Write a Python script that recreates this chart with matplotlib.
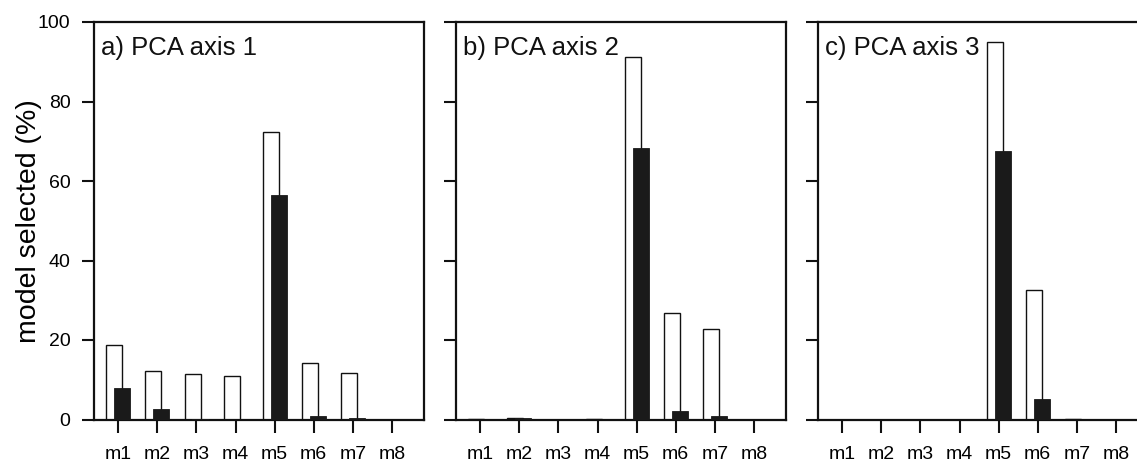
import matplotlib
matplotlib.use("Agg")
import matplotlib.pyplot as plt
import numpy as np

plt.rcParams['font.family'] = ['Liberation Sans', 'DejaVu Sans']

models = ["m1", "m2", "m3", "m4", "m5", "m6", "m7", "m8"]
titles = ["a) PCA axis 1", "b) PCA axis 2", "c) PCA axis 3"]
white_a = [18.7, 12.2, 11.4, 11.0, 72.3, 14.2, 11.6, 0.0]
black_a = [8.0, 2.7, 0.2, 0.0, 56.5, 1.0, 0.3, 0.0]
white_b = [0.2, 0.4, 0.0, 0.2, 91.3, 26.8, 22.8, 0.0]
black_b = [0.0, 0.5, 0.0, 0.0, 68.2, 2.2, 1.0, 0.0]
white_c = [0.0, 0.0, 0.0, 0.0, 95.0, 32.6, 0.2, 0.0]
black_c = [0.0, 0.0, 0.0, 0.0, 67.6, 5.2, 0.0, 0.0]
white_all = [white_a, white_b, white_c]
black_all = [black_a, black_b, black_c]
yticks = [0, 20, 40, 60, 80, 100]

W, H = 1137, 463
fig = plt.figure(figsize=(W / 100, H / 100), dpi=100)
lefts = [94, 456, 818]
pw = 330
top, bottom = 22, 419.5

x = np.arange(1, len(models) + 1)
bw = 0.41
off = 0.1
for i in range(3):
    ax = fig.add_axes([lefts[i] / W, 1 - bottom / H, pw / W, (bottom - top) / H])
    ax.bar(x - off, white_all[i], width=bw, color="white", edgecolor="#111111",
           linewidth=1.0, zorder=2)
    ax.bar(x + off, black_all[i], width=bw, color="#1a1a1a", edgecolor="#1a1a1a",
           linewidth=0.6, zorder=3)
    ax.set_xlim(0.38, 8.82)
    ax.set_ylim(0, 100)
    ax.set_xticks(x)
    ax.set_xticklabels(models, fontsize=14)
    ax.set_yticks(yticks)
    if i == 0:
        ax.set_yticklabels([str(v) for v in yticks], fontsize=14)
        ax.set_ylabel("model selected (%)", fontsize=20.5)
        ax.yaxis.set_label_coords(-0.158, 0.5)
    else:
        ax.set_yticklabels([])
    ax.tick_params(axis="y", direction="out", length=9, width=1.5, pad=8,
                   color="#111111")
    ax.tick_params(axis="x", direction="out", length=9, width=1.5, pad=10,
                   color="#111111")
    for s in ax.spines.values():
        s.set_linewidth(1.6)
        s.set_color("#111111")
    ax.text(0.022, 0.965, titles[i], transform=ax.transAxes, fontsize=18.5,
            ha="left", va="top", color="#111111")

fig.savefig("out.png", dpi=100)
